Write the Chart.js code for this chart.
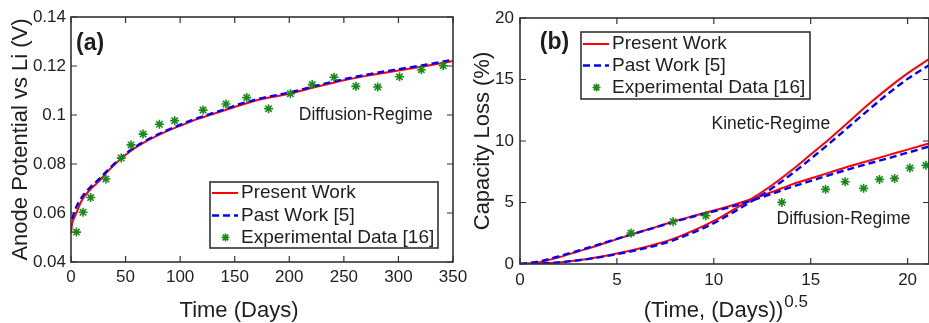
<!DOCTYPE html>
<html lang="en">
<head>
<meta charset="utf-8" />
<title>Anode potential and capacity loss</title>
<script src="https://cdnjs.cloudflare.com/ajax/libs/Chart.js/4.4.0/chart.umd.js"></script>
<style>
  html, body { margin: 0; padding: 0; background: #fff; overflow: hidden; }
  #wrap { position: relative; width: 929px; height: 323px; }
  canvas { position: absolute; top: 0; }
  #chartA { left: 0; }
  #chartB { left: 465px; }
</style>
</head>
<body>
<div id="wrap">
  <canvas id="chartA" width="480" height="323"></canvas>
  <canvas id="chartB" width="470" height="323"></canvas>
</div>
<script>
// ---- panel (a): anode potential vs time (days) ----
const daysA      = [0, 1, 4, 10, 17, 25, 33, 45, 55, 70, 85, 100, 117, 140, 155, 175, 200, 225, 250, 275, 300, 325, 350];
const presentA   = [0.0518, 0.0555, 0.0590, 0.0652, 0.0693, 0.0727, 0.0767, 0.0818, 0.0854, 0.0895, 0.0928, 0.0956,
                    0.0985, 0.1018, 0.1040, 0.1065, 0.1087, 0.1115, 0.1142, 0.1163, 0.1182, 0.1200, 0.1220];
const pastDaysA  = [1, 4, 10, 17, 25, 33, 45, 55, 70, 85, 100, 117, 140, 155, 175, 200, 225, 250, 275, 300, 325, 350];
const pastA      = [0.0575, 0.0615, 0.0665, 0.0702, 0.0735, 0.0772, 0.0822, 0.0858, 0.0899, 0.0932, 0.0960,
                    0.0989, 0.1022, 0.1045, 0.1069, 0.1092, 0.1120, 0.1146, 0.1168, 0.1187, 0.1205, 0.1226];
const expDaysA   = [5, 11, 18, 32, 46, 55, 66, 81, 95, 121, 142, 161, 181, 201, 221, 241, 261, 281, 301, 321, 341];
const expA       = [0.0522, 0.0603, 0.0663, 0.0739, 0.0824, 0.0878, 0.0922, 0.0962, 0.0977, 0.1020, 0.1045,
                    0.1071, 0.1026, 0.1087, 0.1124, 0.1154, 0.1117, 0.1114, 0.1156, 0.1185, 0.1201];

// ---- panel (b): capacity loss vs sqrt(time) ----
const sqrtB        = [0, 1, 2, 3, 4, 5, 6, 7, 8, 9, 10, 11, 12, 13, 14, 15, 16, 17, 18, 19, 20, 21.1];
const presentDiffB = [0, 0.15, 0.55, 1.02, 1.5, 2.02, 2.52, 3.0, 3.5, 3.93, 4.35, 4.8, 5.3, 5.85, 6.45, 6.95, 7.45, 7.95, 8.4, 8.85, 9.3, 9.8];
const pastDiffB    = [0, 0.22, 0.62, 1.08, 1.55, 2.05, 2.52, 2.98, 3.45, 3.88, 4.28, 4.7, 5.18, 5.7, 6.25, 6.75, 7.25, 7.72, 8.17, 8.6, 9.05, 9.55];
const presentKinB  = [0, 0.03, 0.12, 0.3, 0.55, 0.85, 1.2, 1.6, 2.1, 2.75, 3.5, 4.4, 5.35, 6.4, 7.6, 8.9, 10.2, 11.6, 13.0, 14.3, 15.5, 16.65];
const pastKinB     = [0, 0.04, 0.13, 0.3, 0.52, 0.8, 1.12, 1.5, 1.98, 2.6, 3.32, 4.2, 5.15, 6.15, 7.3, 8.55, 9.85, 11.2, 12.55, 13.85, 15.05, 16.15];
const expSqrtB     = [5.73, 7.9, 9.59, 13.51, 15.77, 16.78, 17.73, 18.55, 19.33, 20.12, 20.95];
const expB         = [2.52, 3.44, 3.93, 5.01, 6.07, 6.69, 6.15, 6.88, 6.96, 7.80, 8.02];

const FONT = "'Liberation Sans', Arial, sans-serif";
const INK = '#1e1e1e';
const RED = '#ff0000', BLUE = '#0000ff', GREEN = '#178a17';

Chart.defaults.font.family = FONT;
Chart.defaults.color = INK;

function pts(xs, ys) {
    return xs.map((x, i) => ({ x: x, y: ys[i] }));
}

function redLine(xs, ys, inLegend) {
    return { label: 'Present Work', data: pts(xs, ys), showLine: true, borderColor: RED, backgroundColor: RED,
             borderWidth: 2, pointRadius: 0, cubicInterpolationMode: 'monotone', order: 3, inLegend: inLegend };
}
function blueLine(xs, ys, inLegend, label) {
    return { label: label, data: pts(xs, ys), showLine: true, borderColor: BLUE, backgroundColor: BLUE,
             borderWidth: 2.4, borderDash: [7, 4], pointRadius: 0, cubicInterpolationMode: 'monotone', order: 2, inLegend: inLegend };
}
function expPoints(xs, ys, label) {
    return { label: label, data: pts(xs, ys), showLine: false, pointStyle: 'star', pointRadius: 4.5,
             borderColor: GREEN, backgroundColor: GREEN, borderWidth: 1.6, order: 1, inLegend: true };
}

// box, inward ticks, notes, legend and x title drawn MATLAB style
const matlabAxes = {
    id: 'matlabAxes',
    afterDatasetsDraw(chart, args, o) {
        const ctx = chart.ctx, a = chart.chartArea, sx = chart.scales.x, sy = chart.scales.y;
        const tl = 6;
        ctx.save();
        ctx.strokeStyle = '#333';
        ctx.lineWidth = 1.2;
        ctx.beginPath();
        sx.ticks.forEach(t => {
            const p = sx.getPixelForValue(t.value);
            ctx.moveTo(p, a.bottom); ctx.lineTo(p, a.bottom - tl);
            ctx.moveTo(p, a.top); ctx.lineTo(p, a.top + tl);
        });
        sy.ticks.forEach(t => {
            const p = sy.getPixelForValue(t.value);
            ctx.moveTo(a.left, p); ctx.lineTo(a.left + tl, p);
            ctx.moveTo(a.right, p); ctx.lineTo(a.right - tl, p);
        });
        ctx.stroke();
        ctx.lineWidth = 1.6;
        ctx.strokeRect(a.left, a.top, a.right - a.left, a.bottom - a.top);

        // notes inside the axes
        ctx.fillStyle = INK;
        ctx.textAlign = 'left';
        ctx.textBaseline = 'middle';
        o.notes.forEach(n => {
            ctx.font = (n.bold ? 'bold ' : '') + n.size + 'px ' + FONT;
            ctx.fillText(n.text, sx.getPixelForValue(n.x), sy.getPixelForValue(n.y));
        });

        // legend box
        const L = o.legend;
        const lx = a.left + L.dx, ly = a.top + L.dy;
        ctx.fillStyle = '#fff';
        ctx.fillRect(lx, ly, L.w, L.h);
        ctx.strokeStyle = '#333';
        ctx.lineWidth = 1.6;
        ctx.strokeRect(lx, ly, L.w, L.h);
        ctx.font = L.size + 'px ' + FONT;
        chart.data.datasets.filter(d => d.inLegend).forEach((d, i) => {
            const y = ly + L.rows[i];
            ctx.fillStyle = INK;
            ctx.fillText(d.label, lx + 31, y);
            ctx.strokeStyle = d.borderColor;
            ctx.lineWidth = d.borderWidth;
            ctx.beginPath();
            if (d.showLine) {
                ctx.setLineDash(d.borderDash || []);
                ctx.moveTo(lx + 2, y);
                ctx.lineTo(lx + 28, y);
            } else {
                // asterisk marker, same as the plotted points
                const r = 4, cx = lx + 15.5;
                for (let k = 0; k < 4; k++) {
                    const ang = k * Math.PI / 4;
                    ctx.moveTo(cx - r * Math.cos(ang), y - r * Math.sin(ang));
                    ctx.lineTo(cx + r * Math.cos(ang), y + r * Math.sin(ang));
                }
            }
            ctx.stroke();
            ctx.setLineDash([]);
        });

        // x axis title (with optional superscript)
        const T = o.xTitle;
        ctx.fillStyle = INK;
        ctx.font = '22px ' + FONT;
        ctx.textAlign = 'center';
        ctx.fillText(T.text, T.cx, T.cy);
        if (T.sup) {
            const w = ctx.measureText(T.text).width;
            ctx.font = '17px ' + FONT;
            ctx.textAlign = 'left';
            ctx.fillText(T.sup, T.cx + w / 2 + 1, T.cy - 9);
        }
        ctx.restore();
    }
};

function yTickLabel(v) {
    return String(+v.toFixed(3));
}

new Chart('chartA', {
    type: 'scatter',
    data: {
        datasets: [
            redLine(daysA, presentA, true),
            blueLine(pastDaysA, pastA, true, 'Past Work [5]'),
            expPoints(expDaysA, expA, 'Experimental Data [16]')
        ]
    },
    options: {
        responsive: false,
        animation: false,
        layout: { padding: { top: 17, right: 27, bottom: 0, left: 0 } },
        plugins: {
            legend: { display: false },
            tooltip: { enabled: false },
            matlabAxes: {
                notes: [
                    { text: '(a)', x: 4.6, y: 0.1293, size: 23, bold: true },
                    { text: 'Diffusion-Regime', x: 208.7, y: 0.0999, size: 17.5 }
                ],
                legend: { dx: 139, dy: 165, w: 228, h: 66, size: 19, rows: [11, 33.5, 55.5] },
                xTitle: { text: 'Time (Days)', cx: 239, cy: 311 }
            }
        },
        scales: {
            x: {
                type: 'linear', min: 0, max: 350,
                grid: { display: false, drawTicks: false }, border: { display: false },
                ticks: { stepSize: 50, padding: 5, font: { size: 17 }, maxRotation: 0, autoSkip: false, includeBounds: false },
                afterFit: s => { s.height = 61; }
            },
            y: {
                type: 'linear', min: 0.04, max: 0.14,
                grid: { display: false, drawTicks: false }, border: { display: false },
                ticks: { stepSize: 0.02, padding: 5, font: { size: 17 }, callback: yTickLabel },
                title: { display: true, text: 'Anode Potential vs Li (V)', font: { size: 22, lineHeight: 1 }, padding: { top: 10, bottom: 0 } },
                afterFit: s => { s.width = 71; }
            }
        }
    },
    plugins: [matlabAxes]
});

new Chart('chartB', {
    type: 'scatter',
    data: {
        datasets: [
            redLine(sqrtB, presentDiffB, true),
            redLine(sqrtB, presentKinB, false),
            blueLine(sqrtB, pastDiffB, true, 'Past Work [5]'),
            blueLine(sqrtB, pastKinB, false, 'Past Work [5]'),
            expPoints(expSqrtB, expB, 'Experimental Data [16]')
        ]
    },
    options: {
        responsive: false,
        animation: false,
        layout: { padding: { top: 18, right: 6, bottom: 0, left: 0 } },
        plugins: {
            legend: { display: false },
            tooltip: { enabled: false },
            matlabAxes: {
                notes: [
                    { text: '(b)', x: 1.02, y: 18.0, size: 23, bold: true },
                    { text: 'Kinetic-Regime', x: 9.88, y: 11.33, size: 17.5 },
                    { text: 'Diffusion-Regime', x: 13.24, y: 3.66, size: 17.5 }
                ],
                legend: { dx: 61, dy: 14, w: 229, h: 67, size: 19, rows: [12, 33.5, 55.5] },
                xTitle: { text: '(Time, (Days))', sup: '0.5', cx: 248.5, cy: 311 }
            }
        },
        scales: {
            x: {
                type: 'linear', min: 0, max: 21.1,
                grid: { display: false, drawTicks: false }, border: { display: false },
                ticks: { stepSize: 5, padding: 6, font: { size: 17 }, maxRotation: 0, autoSkip: false, includeBounds: false },
                afterFit: s => { s.height = 59; }
            },
            y: {
                type: 'linear', min: 0, max: 20,
                grid: { display: false, drawTicks: false }, border: { display: false },
                ticks: { stepSize: 5, padding: 6, font: { size: 17 } },
                title: { display: true, text: 'Capacity Loss (%)', font: { size: 22, lineHeight: 1 }, padding: { top: 7, bottom: 0 } },
                afterFit: s => { s.width = 55; }
            }
        }
    },
    plugins: [matlabAxes]
});
</script>
</body>
</html>
